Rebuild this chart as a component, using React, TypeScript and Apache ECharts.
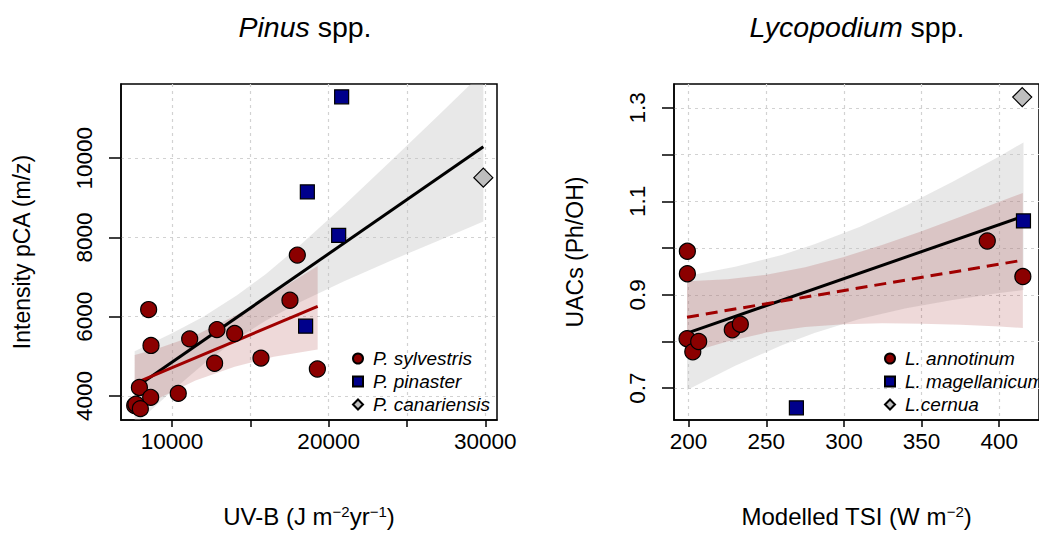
import React, { useEffect, useRef } from "react";
import * as echarts from "echarts";

const FONT = '"Liberation Sans", Arial, Helvetica, sans-serif';

// ---------------- Pinus panel data ----------------
const pinusSylvestrisUVB = [8510, 8660, 11130, 12870, 14000, 12720, 15680, 18000, 17530, 19280, 7920, 8640, 10400, 7620, 7700, 7980];
const pinusSylvestrisPCA = [6180, 5275, 5440, 5675, 5575, 4825, 4955, 7555, 6415, 4680, 4215, 3965, 4065, 3760, 3790, 3680];
const pinusPinasterUVB = [20830, 18640, 20640, 18530];
const pinusPinasterPCA = [11550, 9150, 8055, 5760];
const pinusCanariensisUVB = [29875];
const pinusCanariensisPCA = [9510];

const pinusAllFitX = [7617, 29875];
const pinusAllFitY = [4200, 10290];
const pinusSylFitX = [7617, 19300];
const pinusSylFitY = [4317, 6260];

const pinusAllBandX = [7617, 10000, 12000, 14150, 16000, 18190, 20950, 24000, 27000, 29875];
const pinusAllBandUpper = [5130, 5580, 6000, 6540, 7080, 7810, 8800, 9940, 11080, 12180];
const pinusAllBandLower = [3265, 4125, 4800, 5440, 5905, 6370, 6890, 7420, 7920, 8400];
const pinusSylBandX = [7617, 9000, 11500, 14000, 16500, 19300];
const pinusSylBandUpper = [5035, 5185, 5530, 6015, 6595, 7280];
const pinusSylBandLower = [3600, 3910, 4390, 4740, 4990, 5175];

const pinusXTicks = [10000, 15000, 20000, 25000, 30000];
const pinusXLabels = [10000, 20000, 30000];
const pinusYTicks = [4000, 6000, 8000, 10000];

// ---------------- Lycopodium panel data ----------------
const lycAnnotinumTSI = [199.2, 199.2, 199.0, 202.7, 206.5, 228.1, 233.3, 392.3, 415.2];
const lycAnnotinumUAC = [0.993, 0.945, 0.806, 0.778, 0.8, 0.825, 0.837, 1.015, 0.939];
const lycMagellanicumTSI = [269.4, 415.6];
const lycMagellanicumUAC = [0.658, 1.058];
const lycCernuaTSI = [414.8];
const lycCernuaUAC = [1.323];

const lycAllFitX = [199, 415.6];
const lycAllFitY = [0.818, 1.068];
const lycAnnFitX = [199, 415.2];
const lycAnnFitY = [0.852, 0.974];

const lycAllBandX = [199, 230, 260, 281, 310, 340, 370, 400, 415.6];
const lycAllBandUpper = [0.94, 0.96, 0.985, 1.008, 1.045, 1.091, 1.142, 1.196, 1.226];
const lycAllBandLower = [0.696, 0.748, 0.792, 0.818, 0.848, 0.871, 0.889, 0.904, 0.91];
const lycAnnBandX = [199, 225, 250, 275, 300, 325, 350, 375, 400, 415.2];
const lycAnnBandUpper = [0.929, 0.933, 0.943, 0.959, 0.981, 1.007, 1.036, 1.067, 1.099, 1.118];
const lycAnnBandLower = [0.775, 0.8, 0.819, 0.831, 0.837, 0.839, 0.838, 0.836, 0.832, 0.829];

const lycXTicks = [200, 250, 300, 350, 400];
const lycYTicks = [0.7, 0.8, 0.9, 1.0, 1.1, 1.2, 1.3];
const lycYLabels = [0.7, 0.9, 1.1, 1.3];

// ---------------- helpers ----------------
const DARKRED = "#8b0000";
const DARKBLUE = "#00008b";
const GREY = "#bebebe";

const pairs = (xs: number[], ys: number[]) => xs.map((x, i) => [x, ys[i]]);

const band = (idx: number, xs: number[], up: number[], lo: number[], fill: string) => ({
  type: "custom",
  xAxisIndex: idx,
  yAxisIndex: idx,
  clip: true,
  silent: true,
  z: 1,
  data: [[xs[0], up[0]]],
  renderItem: (_params: any, api: any) => {
    const pts: number[][] = [];
    xs.forEach((x, i) => pts.push(api.coord([x, up[i]])));
    for (let i = xs.length - 1; i >= 0; i--) pts.push(api.coord([xs[i], lo[i]]));
    return { type: "polygon", shape: { points: pts }, style: { fill, stroke: "none" } };
  },
});

const fitLine = (idx: number, xs: number[], ys: number[], color: string, dashed = false) => ({
  type: "line",
  xAxisIndex: idx,
  yAxisIndex: idx,
  data: pairs(xs, ys),
  symbol: "none",
  silent: true,
  z: 2,
  lineStyle: { color, width: 3, type: dashed ? [12, 7] : "solid" },
});

const scatter = (idx: number, name: string, xs: number[], ys: number[], symbol: string, size: number, color: string) => ({
  type: "scatter",
  name,
  xAxisIndex: idx,
  yAxisIndex: idx,
  data: pairs(xs, ys),
  symbol,
  symbolSize: size,
  z: 3,
  itemStyle: { color, borderColor: "#000", borderWidth: 1.2, opacity: 1 },
});

const tickStyle = { color: "#000", width: 1.5 };
const splitStyle = { show: true, lineStyle: { color: "#d2d2d2", width: 1.2, type: [3, 4] } };

const xAxis = (idx: number, min: number, max: number, ticks: number[], labels: number[], name: string) => ({
  type: "value",
  gridIndex: idx,
  min,
  max,
  name,
  nameLocation: "middle",
  nameGap: 84,
  nameTextStyle: {
    fontSize: 24,
    color: "#000",
    fontFamily: FONT,
    rich: { sup: { fontSize: 15, color: "#000", fontFamily: FONT, verticalAlign: "top", lineHeight: 15 } },
  },
  axisLine: { show: true, onZero: false, lineStyle: tickStyle },
  axisTick: { show: true, length: 7, customValues: ticks, lineStyle: tickStyle },
  axisLabel: {
    customValues: labels,
    margin: 10,
    fontSize: 22.5,
    color: "#000",
    fontFamily: FONT,
    formatter: (v: number) => String(v),
  },
  splitLine: splitStyle,
});

const yAxis = (idx: number, min: number, max: number, ticks: number[], labels: number[], name: string, dec: number) => ({
  type: "value",
  gridIndex: idx,
  min,
  max,
  name,
  nameLocation: "middle",
  nameGap: 88,
  nameTextStyle: { fontSize: 23, color: "#000", fontFamily: FONT },
  axisLine: { show: true, onZero: false, lineStyle: tickStyle },
  axisTick: { show: true, length: 12, customValues: ticks, lineStyle: tickStyle },
  axisLabel: {
    customValues: labels,
    rotate: 90,
    margin: 25,
    fontSize: 22.5,
    color: "#000",
    fontFamily: FONT,
    formatter: (v: number) => (dec > 0 ? v.toFixed(dec) : String(v)),
  },
  splitLine: splitStyle,
});

const legend = (left: number, names: string[]) => ({
  orient: "vertical",
  left,
  top: 343,
  itemWidth: 10,
  itemHeight: 10,
  itemGap: 2,
  selectedMode: false,
  data: names.map((n, i) => ({ name: n, icon: ["circle", "rect", "diamond"][i] })),
  textStyle: { fontSize: 19, fontStyle: "italic", color: "#000", fontFamily: FONT, lineHeight: 21, padding: [0, 0, 0, 5] },
});

const titleStyle = {
  fontSize: 28.5,
  fontWeight: "normal",
  color: "#000",
  fontFamily: FONT,
  rich: { i: { fontSize: 28.5, fontStyle: "italic", color: "#000", fontFamily: FONT } },
};

const option = {
  animation: false,
  backgroundColor: "#fff",
  title: [
    { text: "{i|Pinus} spp.", left: 300, top: 7, textAlign: "center", textStyle: titleStyle },
    { text: "{i|Lycopodium} spp.", left: 852, top: 7, textAlign: "center", textStyle: titleStyle },
  ],
  grid: [
    { left: 121, top: 84, width: 376, height: 340, show: true, borderColor: "#000", borderWidth: 1.5, backgroundColor: "transparent" },
    { left: 674, top: 84, width: 376, height: 340, show: true, borderColor: "#000", borderWidth: 1.5, backgroundColor: "transparent" },
  ],
  xAxis: [
    xAxis(0, 6745, 30747, pinusXTicks, pinusXLabels, "UV-B (J m{sup|−2}yr{sup|−1})"),
    xAxis(1, 190.6, 425.6, lycXTicks, lycXTicks, "Modelled TSI (W m{sup|−2})"),
  ],
  yAxis: [
    yAxis(0, 3393, 11873, pinusYTicks, pinusYTicks, "Intensity pCA (m/z)", 0),
    yAxis(1, 0.632, 1.351, lycYTicks, lycYLabels, "UACs (Ph/OH)", 1),
  ],
  legend: [
    legend(347, ["P. sylvestris", "P. pinaster", "P. canariensis"]),
    legend(879, ["L. annotinum", "L. magellanicum", "L.cernua"]),
  ],
  series: [
    band(0, pinusAllBandX, pinusAllBandUpper, pinusAllBandLower, "rgba(190,190,190,0.36)"),
    band(0, pinusSylBandX, pinusSylBandUpper, pinusSylBandLower, "rgba(139,0,0,0.15)"),
    fitLine(0, pinusAllFitX, pinusAllFitY, "#000"),
    fitLine(0, pinusSylFitX, pinusSylFitY, "#a00000"),
    scatter(0, "P. sylvestris", pinusSylvestrisUVB, pinusSylvestrisPCA, "circle", 16, DARKRED),
    scatter(0, "P. pinaster", pinusPinasterUVB, pinusPinasterPCA, "rect", 14, DARKBLUE),
    scatter(0, "P. canariensis", pinusCanariensisUVB, pinusCanariensisPCA, "diamond", 19, GREY),

    band(1, lycAllBandX, lycAllBandUpper, lycAllBandLower, "rgba(190,190,190,0.36)"),
    band(1, lycAnnBandX, lycAnnBandUpper, lycAnnBandLower, "rgba(139,0,0,0.15)"),
    fitLine(1, lycAllFitX, lycAllFitY, "#000"),
    fitLine(1, lycAnnFitX, lycAnnFitY, "#a00000", true),
    scatter(1, "L. annotinum", lycAnnotinumTSI, lycAnnotinumUAC, "circle", 16, DARKRED),
    scatter(1, "L. magellanicum", lycMagellanicumTSI, lycMagellanicumUAC, "rect", 14, DARKBLUE),
    scatter(1, "L.cernua", lycCernuaTSI, lycCernuaUAC, "diamond", 19, GREY),
  ],
};

export default function App() {
  const ref = useRef<HTMLDivElement>(null);
  useEffect(() => {
    document.body.style.margin = "0";
    const chart = echarts.init(ref.current as HTMLDivElement, null, { renderer: "svg" });
    chart.setOption(option as any);
    return () => chart.dispose();
  }, []);
  return <div ref={ref} style={{ width: 1039, height: 533 }} />;
}
